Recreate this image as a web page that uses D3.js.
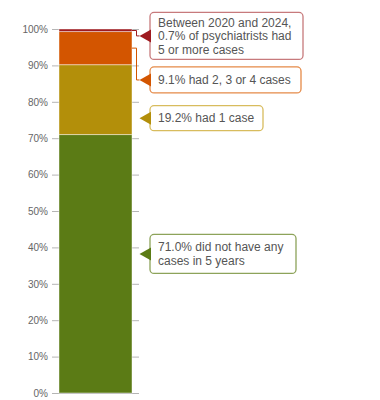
<!DOCTYPE html>
<html>
<head>
<meta charset="utf-8">
<script src="https://cdn.jsdelivr.net/npm/d3@7"></script>
<style>
  body { margin: 0; background: #fff; }
  svg { font-family: "Liberation Sans", Arial, sans-serif; }
</style>
</head>
<body>
<div id="chart"></div>
<script>

// share of psychiatrists by number of cases (2020-2024), bottom to top
var groups = ["none", "one", "twoToFour", "fivePlus"];
var shares = [71.0, 19.2, 9.1, 0.7];
var colors = ["#5b7b15", "#b38f0a", "#d35500", "#9e1b20"];
var boxStrokes = ["#8da35a", "#d8bc5e", "#e58a48", "#c77a7c"];
var labels = [
    ["71.0% did not have any", "cases in 5 years"],
    ["19.2% had 1 case"],
    ["9.1% had 2, 3 or 4 cases"],
    ["Between 2020 and 2024,", "0.7% of psychiatrists had", "5 or more cases"]
];
// where each callout points, in % on the axis
var pointAt = [38.2, 75.5, 86.0, 98.1];
var yTicks = [0, 10, 20, 30, 40, 50, 60, 70, 80, 90, 100];

var width = 380, height = 400;

var svg = d3.select("#chart").append("svg")
    .attr("width", width)
    .attr("height", height);

var y = d3.scaleLinear()
    .domain([0, 100])
    .range([393, 29]);

var barLeft = 59, barRight = 132;

// gridlines + labels
var axis = svg.append("g")
    .attr("transform", "translate(139,0)")
    .call(d3.axisLeft(y).tickValues(yTicks).tickSize(87).tickPadding(4)
        .tickFormat(function(d) { return d + "%"; }));
axis.select(".domain").remove();
axis.selectAll(".tick line").attr("stroke", "#b5b5b5");
axis.selectAll(".tick text")
    .attr("fill", "#666")
    .style("font-size", "10px")
    .style("font-family", "Liberation Sans, Arial, sans-serif");

// stack the segments
var stacked = [];
var base = 0;
for (let i = 0; i < shares.length; i++) {
    stacked.push({ key: groups[i], y0: base, y1: base + shares[i], i: i });
    base += shares[i];
}

svg.selectAll("rect.seg")
    .data(stacked)
    .enter().append("rect")
    .attr("class", "seg")
    .attr("x", barLeft)
    .attr("width", barRight - barLeft)
    .attr("y", function(d) { return y(d.y1); })
    .attr("height", function(d) { return y(d.y0) - y(d.y1); })
    .attr("fill", function(d) { return colors[d.i]; })
    .attr("stroke", "rgba(255,255,255,0.45)")
    .attr("stroke-width", 1);

// callouts
var tipX = 139.5, boxX = 150, elbowX = 136.5, lineH = 13.5;
var boxW = [146, 113, 151, 153];
var boxH = [39, 25, 26, 47];

stacked.forEach(function(d) {
    var i = d.i;
    var py = y(pointAt[i]);
    var mid = y((d.y0 + d.y1) / 2);
    var g = svg.append("g");

    // connector when the pointer sits outside its own segment
    if (pointAt[i] < d.y0 || pointAt[i] > d.y1) {
        var sy = i == shares.length - 1 ? y(d.y1) + 1.5 : mid;
        g.append("path")
            .attr("d", "M" + barRight + "," + sy + "H" + elbowX + "V" + py + "H" + tipX)
            .attr("fill", "none")
            .attr("stroke", colors[i])
            .attr("stroke-width", 1);
    }

    var n = labels[i].length;
    g.append("rect")
        .attr("x", boxX)
        .attr("y", py - boxH[i] / 2)
        .attr("width", boxW[i])
        .attr("height", boxH[i])
        .attr("rx", 4)
        .attr("fill", "#fff")
        .attr("stroke", boxStrokes[i])
        .attr("stroke-width", 1.3);

    g.append("path")
        .attr("d", "M" + tipX + "," + py + "L" + (boxX + 1) + "," + (py - 6.5) + "L" + (boxX + 1) + "," + (py + 6.5) + "Z")
        .attr("fill", colors[i]);

    var t = g.append("text")
        .attr("fill", "#555")
        .style("font-size", "12px");
    labels[i].forEach(function(line, k) {
        t.append("tspan")
            .attr("x", 158)
            .attr("y", py + (k - (n - 1) / 2) * lineH)
            .attr("dy", "0.35em")
            .text(line);
    });
});

</script>
</body>
</html>
